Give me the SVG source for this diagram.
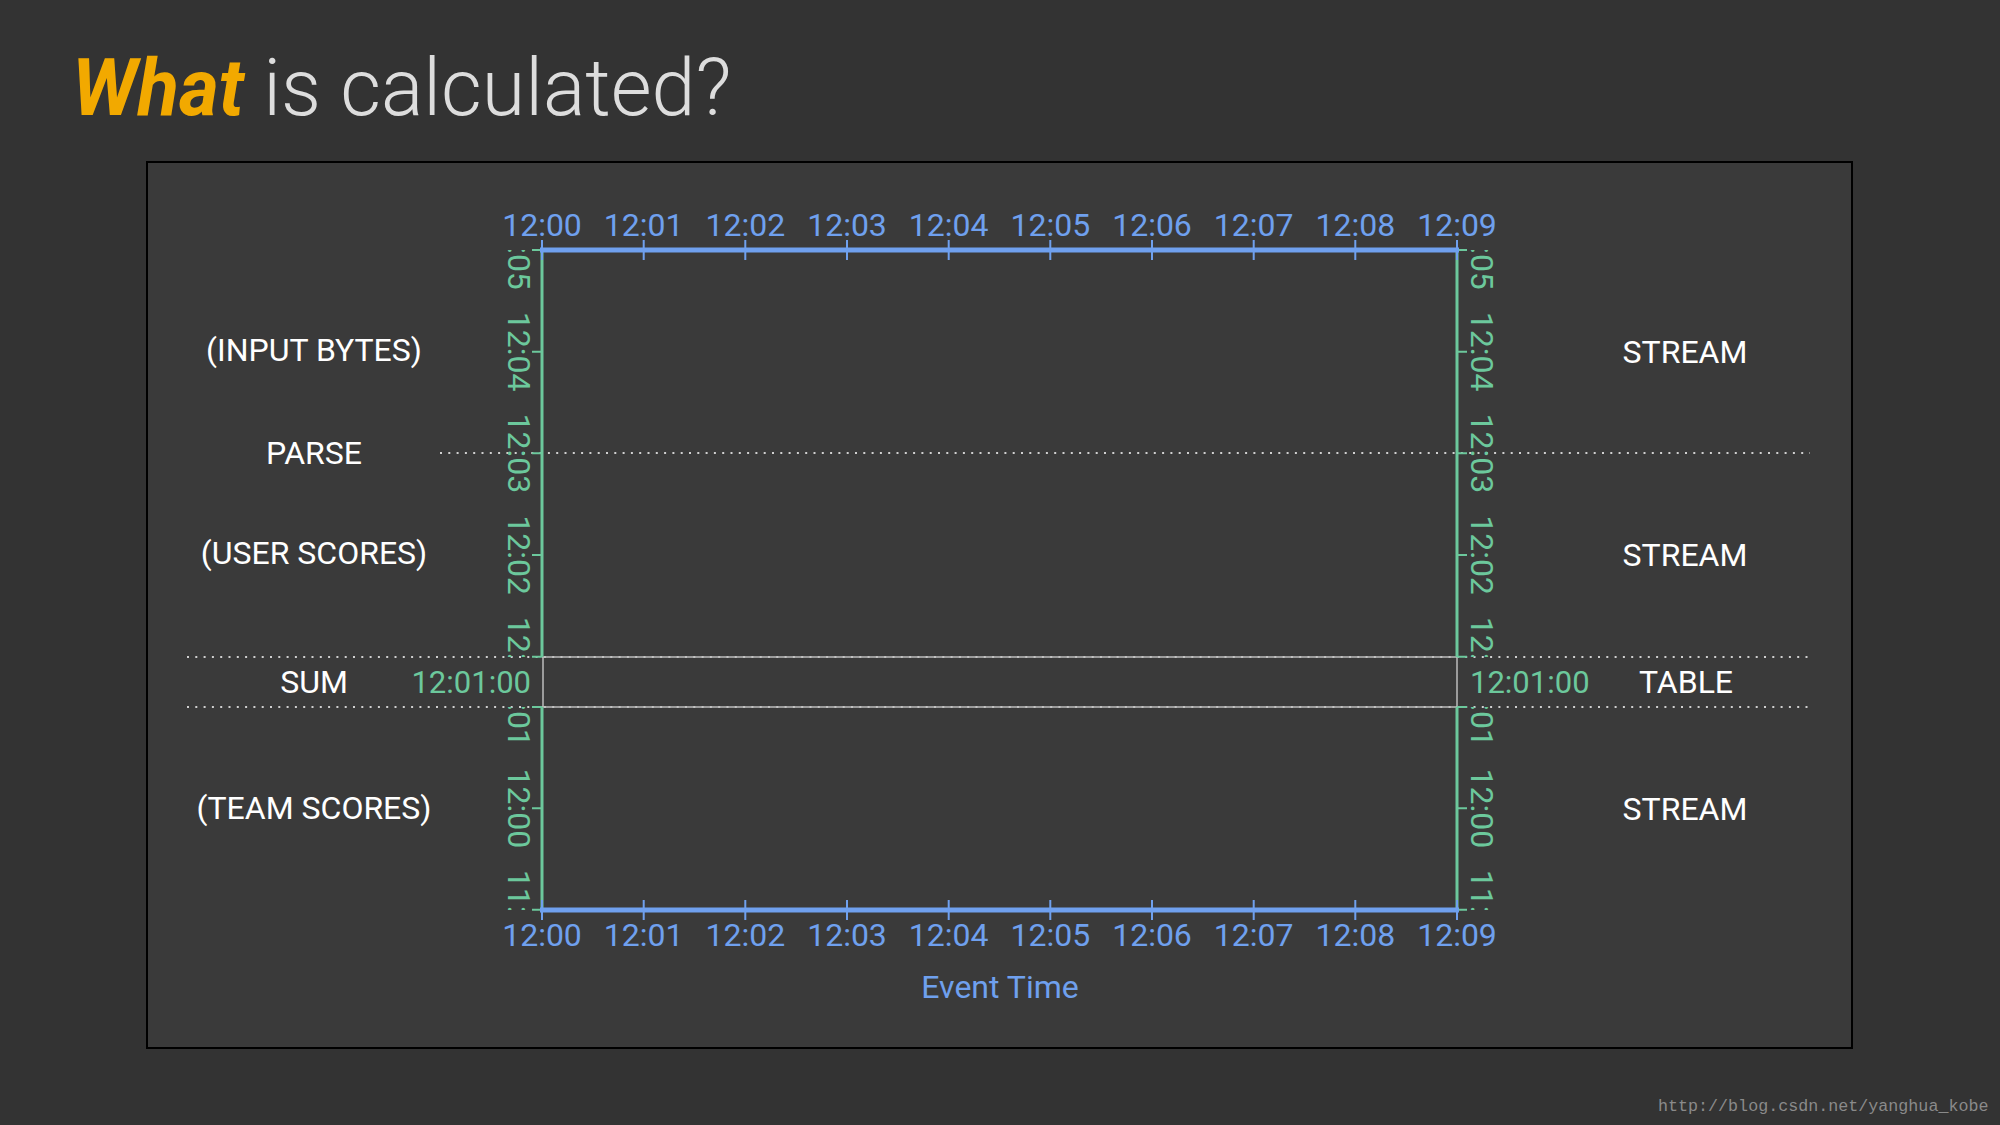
<svg xmlns="http://www.w3.org/2000/svg" width="2000" height="1125" viewBox="0 0 2000 1125">
<defs>
<style>
.lbl{font-family:Roboto,"Liberation Sans",sans-serif;font-size:32px;fill:#ffffff;text-anchor:middle}
.bt{font-family:Roboto,"Liberation Sans",sans-serif;font-size:32px;fill:#6FA0EE;text-anchor:middle}
.gt{font-family:Roboto,"Liberation Sans",sans-serif;font-size:31px;fill:#6CC89C}
.gv{font-family:Roboto,"Liberation Sans",sans-serif;font-size:32px;fill:#6CC89C;text-anchor:middle}
.dot{stroke:#d0d0d0;stroke-width:2;stroke-dasharray:2 6.3;fill:none}
.sol{stroke:#bdbdbd;stroke-width:1.5;fill:none}
.ga{stroke:#6CC89C;stroke-width:3;fill:none}
.gk{stroke:#6CC89C;stroke-width:2;fill:none}
.ba{stroke:#6FA0EE;stroke-width:5;fill:none}
.bk{stroke:#6FA0EE;stroke-width:2;fill:none}
</style>
<clipPath id="cTL"><rect x="480" y="250" width="60" height="407"/></clipPath>
<clipPath id="cBL"><rect x="480" y="707" width="60" height="203"/></clipPath>
<clipPath id="cTR"><rect x="1459" y="250" width="60" height="407"/></clipPath>
<clipPath id="cBR"><rect x="1459" y="707" width="60" height="203"/></clipPath>
</defs>
<rect x="0" y="0" width="2000" height="1125" fill="#333333"/>
<g id="title">
<text x="72" y="115" font-family="Roboto,'Liberation Sans',sans-serif" font-size="79"><tspan fill="#F2A900" font-weight="bold" font-style="italic" textLength="172" lengthAdjust="spacingAndGlyphs">What</tspan><tspan fill="#DDDDDD" font-weight="300"> is calculated?</tspan></text>
</g>
<g id="frame">
<rect x="147" y="162" width="1705" height="886" fill="#3A3A3A" stroke="#000000" stroke-width="2"/>
</g>
<g id="connectors">
<line class="dot" x1="440" y1="453" x2="1810" y2="453"/>
<line class="dot" x1="187" y1="657" x2="1813" y2="657"/>
<line class="dot" x1="187" y1="707" x2="1813" y2="707"/>
<line class="sol" x1="542" y1="657" x2="1457" y2="657"/>
<line class="sol" x1="542" y1="707" x2="1457" y2="707"/>
<line class="sol" x1="543" y1="657" x2="543" y2="707"/>
<line class="sol" x1="1457" y1="657" x2="1457" y2="707"/>
</g>
<g id="time-axis-left">
<line class="ga" x1="542" y1="250" x2="542" y2="657"/>
<line class="ga" x1="542" y1="707" x2="542" y2="910"/>
<path class="gk" d="M532 250H542M532 351.7H542M532 453.3H542M532 555H542M532 656.7H542M532 707H542M532 808.3H542M532 909.7H542"/>
<g clip-path="url(#cTL)">
<text class="gv" transform="translate(507.5,250) rotate(90)">12:05</text>
<text class="gv" transform="translate(507.5,351.7) rotate(90)">12:04</text>
<text class="gv" transform="translate(507.5,453.3) rotate(90)">12:03</text>
<text class="gv" transform="translate(507.5,555) rotate(90)">12:02</text>
<text class="gv" transform="translate(507.5,656.7) rotate(90)">12:01</text>
</g>
<g clip-path="url(#cBL)">
<text class="gv" transform="translate(507.5,707) rotate(90)">12:01</text>
<text class="gv" transform="translate(507.5,808.3) rotate(90)">12:00</text>
<text class="gv" transform="translate(507.5,909.7) rotate(90)">11:59</text>
</g>
</g>
<g id="time-axis-right">
<line class="ga" x1="1457" y1="250" x2="1457" y2="657"/>
<line class="ga" x1="1457" y1="707" x2="1457" y2="910"/>
<path class="gk" d="M1457 250H1467M1457 351.7H1467M1457 453.3H1467M1457 555H1467M1457 656.7H1467M1457 707H1467M1457 808.3H1467M1457 909.7H1467"/>
<g clip-path="url(#cTR)">
<text class="gv" transform="translate(1470.5,250) rotate(90)">12:05</text>
<text class="gv" transform="translate(1470.5,351.7) rotate(90)">12:04</text>
<text class="gv" transform="translate(1470.5,453.3) rotate(90)">12:03</text>
<text class="gv" transform="translate(1470.5,555) rotate(90)">12:02</text>
<text class="gv" transform="translate(1470.5,656.7) rotate(90)">12:01</text>
</g>
<g clip-path="url(#cBR)">
<text class="gv" transform="translate(1470.5,707) rotate(90)">12:01</text>
<text class="gv" transform="translate(1470.5,808.3) rotate(90)">12:00</text>
<text class="gv" transform="translate(1470.5,909.7) rotate(90)">11:59</text>
</g>
</g>
<g id="event-axis-top">
<line class="ba" x1="540" y1="250" x2="1459" y2="250"/>
<path class="bk" d="M542 240V260M643.7 240V260M745.3 240V260M847 240V260M948.7 240V260M1050.3 240V260M1152 240V260M1253.7 240V260M1355.3 240V260M1457 240V260"/>
<text class="bt" x="542" y="236">12:00</text>
<text class="bt" x="643.7" y="236">12:01</text>
<text class="bt" x="745.3" y="236">12:02</text>
<text class="bt" x="847" y="236">12:03</text>
<text class="bt" x="948.7" y="236">12:04</text>
<text class="bt" x="1050.3" y="236">12:05</text>
<text class="bt" x="1152" y="236">12:06</text>
<text class="bt" x="1253.7" y="236">12:07</text>
<text class="bt" x="1355.3" y="236">12:08</text>
<text class="bt" x="1457" y="236">12:09</text>
</g>
<g id="event-axis-bottom">
<line class="ba" x1="540" y1="910" x2="1459" y2="910"/>
<path class="bk" d="M542 900V920M643.7 900V920M745.3 900V920M847 900V920M948.7 900V920M1050.3 900V920M1152 900V920M1253.7 900V920M1355.3 900V920M1457 900V920"/>
<text class="bt" x="542" y="946">12:00</text>
<text class="bt" x="643.7" y="946">12:01</text>
<text class="bt" x="745.3" y="946">12:02</text>
<text class="bt" x="847" y="946">12:03</text>
<text class="bt" x="948.7" y="946">12:04</text>
<text class="bt" x="1050.3" y="946">12:05</text>
<text class="bt" x="1152" y="946">12:06</text>
<text class="bt" x="1253.7" y="946">12:07</text>
<text class="bt" x="1355.3" y="946">12:08</text>
<text class="bt" x="1457" y="946">12:09</text>
<text class="bt" x="1000" y="998">Event Time</text>
</g>
<g id="left-labels">
<text class="lbl" x="314" y="361">(INPUT BYTES)</text>
<text class="lbl" x="314" y="464">PARSE</text>
<text class="lbl" x="314" y="564">(USER SCORES)</text>
<text class="lbl" x="314" y="693">SUM</text>
<text class="lbl" x="314" y="819">(TEAM SCORES)</text>
</g>
<g id="right-labels">
<text class="lbl" x="1685" y="363">STREAM</text>
<text class="lbl" x="1685" y="566">STREAM</text>
<text class="lbl" x="1686" y="693">TABLE</text>
<text class="lbl" x="1685" y="820">STREAM</text>
</g>
<g id="sum-values">
<text class="gt" x="531" y="693" text-anchor="end">12:01:00</text>
<text class="gt" x="1470" y="693">12:01:00</text>
</g>
<g id="watermark">
<text x="1658" y="1111" font-family="'Liberation Mono',monospace" font-size="16.7" fill="#8a8a8a">http://blog.csdn.net/yanghua_kobe</text>
</g>
</svg>
